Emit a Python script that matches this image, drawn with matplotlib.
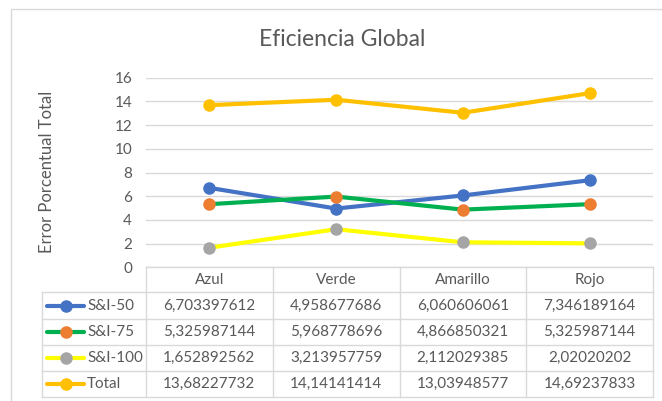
import matplotlib
matplotlib.use("Agg")
import matplotlib.pyplot as plt
from matplotlib.patches import Rectangle
import matplotlib.transforms as mtrans

categories = ["Azul", "Verde", "Amarillo", "Rojo"]
series_names = ["S&I-50", "S&I-75", "S&I-100", "Total"]
si50 = [6.703397612, 4.958677686, 6.060606061, 7.346189164]
si75 = [5.325987144, 5.968778696, 4.866850321, 5.325987144]
si100 = [1.652892562, 3.213957759, 2.112029385, 2.02020202]
total = [13.68227732, 14.14141414, 13.03948577, 14.69237833]
table_text = [
    ["6,703397612", "4,958677686", "6,060606061", "7,346189164"],
    ["5,325987144", "5,968778696", "4,866850321", "5,325987144"],
    ["1,652892562", "3,213957759", "2,112029385", "2,02020202"],
    ["13,68227732", "14,14141414", "13,03948577", "14,69237833"],
]
yticks = [0, 2, 4, 6, 8, 10, 12, 14, 16]

line_colors = ["#4472C4", "#00B050", "#FFFF00", "#FFC000"]
marker_colors = ["#4472C4", "#ED7D31", "#A5A5A5", "#FFC000"]
series = [si50, si75, si100, total]

FONT = "Lato"
TXT = "#595959"
GRID = "#D9D9D9"

W, H = 662, 401
fig = plt.figure(figsize=(W / 100, H / 100), dpi=100)

# chart border
fig.patches.append(Rectangle((11 / W, -0.05), 1.1, (H - 9) / H + 0.05,
                             transform=fig.transFigure, fill=False,
                             edgecolor="#D9D9D9", linewidth=1.0))

x0, x1 = 146, 653
ytop, ybot = 77.7, 267.3
ax = fig.add_axes([x0 / W, (H - ybot) / H, (x1 - x0) / W, (ybot - ytop) / H])
ax.set_xlim(-0.5, len(categories) - 0.5)
ax.set_ylim(0, 16)
ax.set_yticks(yticks)
ax.set_yticklabels([str(v) for v in yticks], fontfamily=FONT, fontsize=11, color=TXT)
ax.tick_params(axis="y", length=0, pad=10)
ax.set_xticks([])
for s in ax.spines.values():
    s.set_visible(False)
ax.grid(axis="y", color=GRID, linewidth=1.0)
ax.set_axisbelow(True)

xs = list(range(len(categories)))
for vals, lc, mc in zip(series, line_colors, marker_colors):
    ax.plot(xs, vals, color=lc, linewidth=3, marker="o", markersize=8,
            markerfacecolor=mc, markeredgecolor=mc, solid_capstyle="round", zorder=3)

# table
ph = ybot - ytop
def ay(py):
    return (ybot - py) / ph

trans = mtrans.blended_transform_factory(ax.transData, ax.transAxes)
pxu = (x1 - x0) / len(categories)
def dx(px):
    return -0.5 + (px - x0) / pxu

row_bounds = [267.3, 292.3, 319.0, 345.0, 371.0, 396.7]
left_px = 42
lc_kw = dict(color=GRID, linewidth=1.0, transform=trans, clip_on=False)
ax.plot([-0.5, 3.5], [ay(row_bounds[0])] * 2, **lc_kw)
for yb in row_bounds[1:]:
    ax.plot([dx(left_px), 3.5], [ay(yb)] * 2, **lc_kw)
for xb in [-0.5, 0.5, 1.5, 2.5, 3.5]:
    ax.plot([xb, xb], [ay(row_bounds[0]), ay(row_bounds[-1])], **lc_kw)
ax.plot([dx(left_px)] * 2, [ay(row_bounds[1]), ay(row_bounds[-1])], **lc_kw)

hy = ay((row_bounds[0] + row_bounds[1]) / 2)
for i, c in enumerate(categories):
    ax.text(i, hy, c, transform=trans, ha="center", va="center",
            fontfamily=FONT, fontsize=11, color=TXT, clip_on=False)

for r in range(len(series_names)):
    cy = ay((row_bounds[r + 1] + row_bounds[r + 2]) / 2)
    for i in range(len(categories)):
        ax.text(i, cy, table_text[r][i], transform=trans, ha="center", va="center",
                fontfamily=FONT, fontsize=11, color=TXT, clip_on=False)
    ax.plot([dx(47), dx(84)], [cy, cy], color=line_colors[r], linewidth=3,
            transform=trans, clip_on=False, solid_capstyle="round")
    ax.plot([dx(66)], [cy], marker="o", markersize=8, color=marker_colors[r],
            transform=trans, clip_on=False)
    ax.text(dx(87), cy, series_names[r], transform=trans, ha="left", va="center",
            fontfamily=FONT, fontsize=11, color=TXT, clip_on=False)

fig.text(342 / W, (H - 40) / H, "Eficiencia Global", ha="center", va="center",
         fontfamily=FONT, fontsize=16.5, color=TXT)
fig.text(47 / W, (H - 172) / H, "Error Porcentual Total", ha="center", va="center",
         rotation=90, fontfamily=FONT, fontsize=12, color=TXT)

fig.savefig("out.png", dpi=100)
